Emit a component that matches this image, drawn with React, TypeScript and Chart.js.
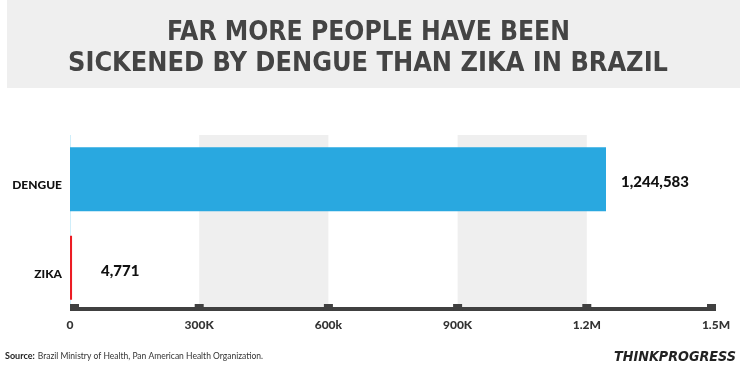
import React, { useEffect, useRef } from "react";
import { Chart, registerables } from "chart.js";
Chart.register(...registerables);

const categories = ["DENGUE", "ZIKA"];
const cases = [1244583, 4771];
const barColors = ["#29a8e0", "#ec1c24"];
const valueLabels = ["1,244,583", "4,771"];
const tickValues = [0, 300000, 600000, 900000, 1200000, 1500000];
const tickLabels = ["0", "300K", "600k", "900K", "1.2M", "1.5M"];
const bandRanges = [
  [300000, 600000],
  [900000, 1200000],
];
const titleLines = ["FAR MORE PEOPLE HAVE BEEN", "SICKENED BY DENGUE THAN ZIKA IN BRAZIL"];
const sourceLabel = "Source:";
const sourceText = "Brazil Ministry of Health, Pan American Health Organization.";
const brand = "THINKPROGRESS";

const W = 740;
const H = 377;
const LABEL_FONT = "Lato, 'Open Sans', sans-serif";
const TITLE_FONT = "'DejaVu Sans Condensed', 'DejaVu Sans', sans-serif";

const decorPlugin = {
  id: "decor",
  beforeDraw(chart: any) {
    const ctx = chart.ctx;
    ctx.save();
    ctx.fillStyle = "#ffffff";
    ctx.fillRect(0, 0, W, H);
    // title band
    ctx.fillStyle = "#efefef";
    ctx.fillRect(7, 0, W - 7, 88);
    ctx.fillStyle = "#444444";
    ctx.font = `bold 27px ${TITLE_FONT}`;
    ctx.textAlign = "center";
    ctx.textBaseline = "alphabetic";
    ctx.fillText(titleLines[0], 368.5, 40, 403);
    ctx.fillText(titleLines[1], 368, 71, 600);
    // footer
    ctx.textAlign = "left";
    ctx.textBaseline = "middle";
    ctx.fillStyle = "#222222";
    ctx.font = `bold 9px ${LABEL_FONT}`;
    ctx.fillText(sourceLabel, 5, 356);
    const sw = ctx.measureText(sourceLabel).width;
    ctx.font = `8.5px ${LABEL_FONT}`;
    ctx.fillStyle = "#333333";
    ctx.fillText(sourceText, 5 + sw + 3, 356, 245);
    ctx.font = `italic 900 14px 'DejaVu Sans', sans-serif`;
    ctx.fillStyle = "#222222";
    ctx.textAlign = "right";
    ctx.fillText(brand, 736, 357, 122);
    ctx.restore();
  },
  beforeDatasetsDraw(chart: any) {
    const ctx = chart.ctx;
    const x = chart.scales.x;
    const area = chart.chartArea;
    ctx.save();
    ctx.fillStyle = "#efefef";
    bandRanges.forEach(([a, b]) => {
      const x0 = x.getPixelForValue(a);
      const x1 = x.getPixelForValue(b);
      ctx.fillRect(x0, area.top, x1 - x0, area.bottom - 5 - area.top);
    });
    // y axis light line
    ctx.fillStyle = "#cfeefa";
    ctx.fillRect(area.left, area.top, 1, area.bottom - 5 - area.top);
    ctx.restore();
  },
  afterDatasetsDraw(chart: any) {
    const ctx = chart.ctx;
    const x = chart.scales.x;
    const area = chart.chartArea;
    ctx.save();
    // axis line
    ctx.fillStyle = "#404040";
    ctx.fillRect(area.left, area.bottom - 5, area.right - area.left, 4);
    tickValues.forEach((v) => {
      const px = x.getPixelForValue(v);
      let sx = px - 4.5;
      if (sx < area.left) sx = area.left;
      if (sx + 9 > area.right) sx = area.right - 9;
      ctx.fillRect(sx, area.bottom - 8, 9, 7);
    });
    // value labels
    const meta = chart.getDatasetMeta(0);
    ctx.fillStyle = "#111111";
    ctx.font = `900 15px ${LABEL_FONT}`;
    ctx.textAlign = "left";
    ctx.textBaseline = "alphabetic";
    meta.data.forEach((bar: any, i: number) => {
      const lx = Math.max(bar.x + 15, area.left + 31);
      ctx.fillText(valueLabels[i], lx, bar.y + 8);
    });
    ctx.restore();
  },
};

export default function App() {
  const ref = useRef<HTMLCanvasElement | null>(null);
  useEffect(() => {
    document.body.style.margin = "0";
    if (!ref.current) return;
    const chart = new Chart(ref.current, {
      type: "bar",
      data: {
        labels: categories,
        datasets: [
          {
            data: cases,
            backgroundColor: barColors,
            borderWidth: 0,
            barPercentage: 0.723,
            categoryPercentage: 1,
          },
        ],
      },
      options: {
        indexAxis: "y",
        animation: false,
        responsive: false,
        maintainAspectRatio: false,
        layout: { padding: { top: 135, right: 24, left: 0, bottom: 0 } },
        plugins: {
          legend: { display: false },
          tooltip: { enabled: false },
          title: { display: false },
        },
        scales: {
          x: {
            type: "linear",
            min: 0,
            max: 1500000,
            grid: { display: false, drawTicks: false },
            border: { display: false },
            afterFit: (s: any) => {
              s.height = 65;
            },
            afterBuildTicks: (s: any) => {
              s.ticks = tickValues.map((v) => ({ value: v }));
            },
            ticks: {
              padding: 6,
              maxRotation: 0,
              autoSkip: false,
              color: "#333333",
              font: { family: LABEL_FONT, weight: "900", size: 12 },
              callback: (v: any) => {
                const i = tickValues.indexOf(Number(v));
                return i >= 0 ? tickLabels[i] : "";
              },
            },
          },
          y: {
            grid: { display: false, drawTicks: false },
            border: { display: false },
            afterFit: (s: any) => {
              s.width = 70;
            },
            ticks: {
              padding: 8,
              labelOffset: 6,
              color: "#111111",
              font: { family: LABEL_FONT, weight: "900", size: 12 },
            },
          },
        },
      },
      plugins: [decorPlugin],
    } as any);
    return () => chart.destroy();
  }, []);
  return (
    <div style={{ width: W, height: H, position: "relative" }}>
      <canvas ref={ref} width={W} height={H} style={{ width: W, height: H, display: "block" }} />
    </div>
  );
}
